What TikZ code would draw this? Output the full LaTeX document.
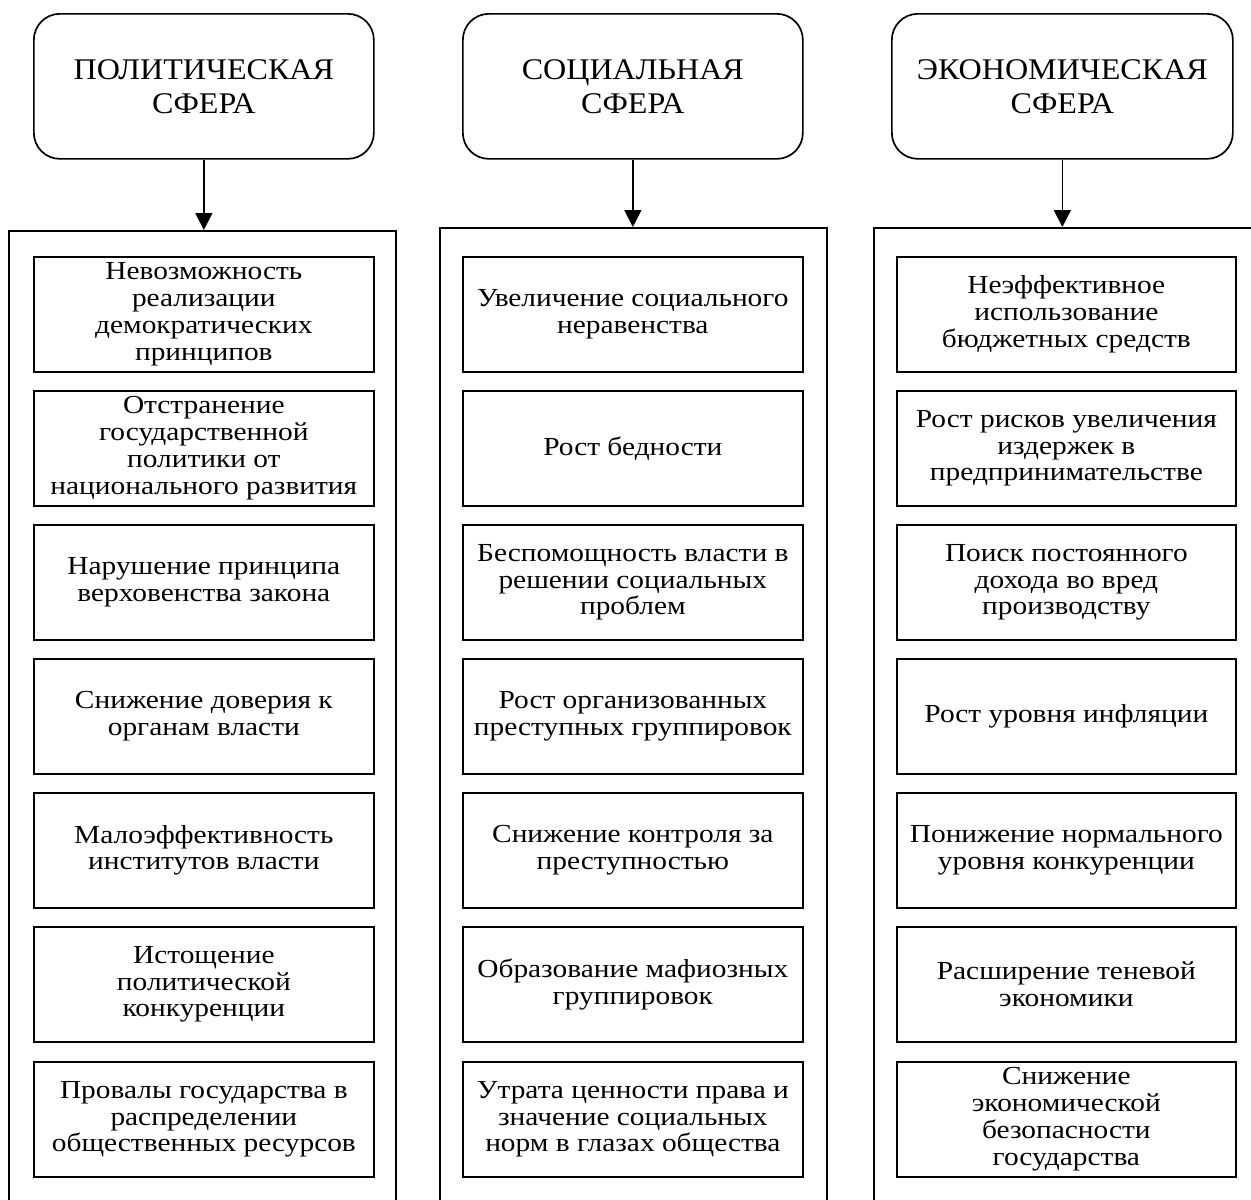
\documentclass[tikz,border=0pt]{standalone}
\usepackage{fontspec}
\setmainfont{Liberation Serif}
\newfontfamily\itemfont[FakeStretch=1.13]{Liberation Serif}
\newfontfamily\headfont[FakeStretch=1.07]{Liberation Serif}
\usetikzlibrary{arrows.meta}
\tikzset{
  head/.style={draw, line width=1.7pt, rounded corners=26pt, minimum width=340pt, minimum height=145pt,
    align=center, inner sep=0pt, anchor=north west, font=\headfont\fontsize{30}{34}\selectfont},
  panel/.style={draw, line width=1.7pt, minimum width=387pt, minimum height=1100pt, inner sep=0pt, anchor=north west},
  item/.style={draw, line width=1.7pt, minimum width=340pt, minimum height=115pt, inner sep=0pt,
    align=center, anchor=north west, font=\itemfont\fontsize{26}{26.8}\selectfont},
  conn/.style={-{Triangle[length=17pt,width=17pt]}, line width=1.7pt}
}
\begin{document}
\begin{tikzpicture}[x=1pt,y=-1pt]
\clip (0,0) rectangle (1251,1200);
\fill[white] (0,0) rectangle (1251,1200);
% headers
\node[head] (pt) at (33,13) {ПОЛИТИЧЕСКАЯ\\СФЕРА};
\node[head] (st) at (462,13) {СОЦИАЛЬНАЯ\\СФЕРА};
\node[head, minimum width=341pt] (et) at (891,13) {ЭКОНОМИЧЕСКАЯ\\СФЕРА};
% panels
\node[panel] (pc) at (8,230) {};
\node[panel] (sc) at (439,227) {};
\node[panel, minimum width=382pt] (ec) at (873,227) {};
% connectors
\draw[conn] (pt.south) -- (pt.south |- pc.north);
\draw[conn] (st.south) -- (st.south |- sc.north);
\draw[conn] (et.south) -- (et.south |- ec.north);
% political
\node[item] (p1) at (33,256) {Невозможность\\реализации\\демократических\\принципов};
\node[item] (p2) at (33,390) {Отстранение\\государственной\\политики от\\национального развития};
\node[item] (p3) at (33,524) {Нарушение принципа\\верховенства закона};
\node[item] (p4) at (33,658) {Снижение доверия к\\органам власти};
\node[item] (p5) at (33,792) {Малоэффективность\\институтов власти};
\node[item] (p6) at (33,926) {Истощение\\политической\\конкуренции};
\node[item] (p7) at (33,1061) {Провалы государства в\\распределении\\общественных ресурсов};
% social
\node[item] (s1) at (462,256) {Увеличение социального\\неравенства};
\node[item] (s2) at (462,390) {Рост бедности};
\node[item] (s3) at (462,524) {Беспомощность власти в\\решении социальных\\проблем};
\node[item] (s4) at (462,658) {Рост организованных\\преступных группировок};
\node[item] (s5) at (462,792) {Снижение контроля за\\преступностью};
\node[item] (s6) at (462,926) {Образование мафиозных\\группировок};
\node[item] (s7) at (462,1061) {Утрата ценности права и\\значение социальных\\норм в глазах общества};
% economic
\node[item, minimum width=339pt] (e1) at (896,256) {Неэффективное\\использование\\бюджетных средств};
\node[item, minimum width=339pt] (e2) at (896,390) {Рост рисков увеличения\\издержек в\\предпринимательстве};
\node[item, minimum width=339pt] (e3) at (896,524) {Поиск постоянного\\дохода во вред\\производству};
\node[item, minimum width=339pt] (e4) at (896,658) {Рост уровня инфляции};
\node[item, minimum width=339pt] (e5) at (896,792) {Понижение нормального\\уровня конкуренции};
\node[item, minimum width=339pt] (e6) at (896,926) {Расширение теневой\\экономики};
\node[item, minimum width=339pt] (e7) at (896,1061) {Снижение\\экономической\\безопасности\\государства};
\end{tikzpicture}
\end{document}
